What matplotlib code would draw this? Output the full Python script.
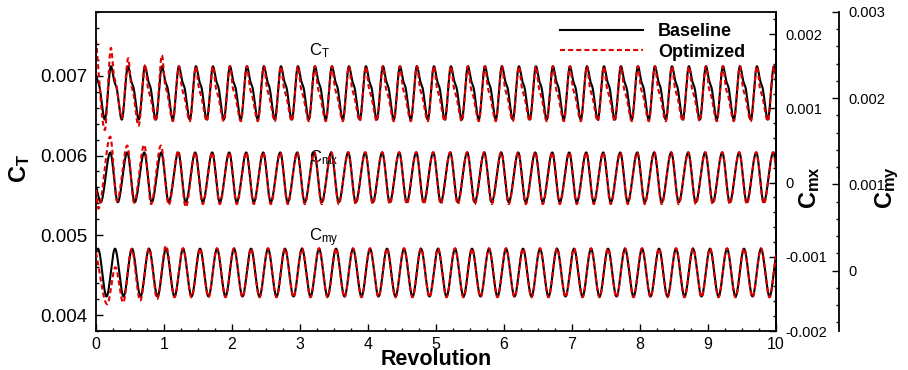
import numpy as np
import matplotlib; matplotlib.use("Agg")
import matplotlib.pyplot as plt
from matplotlib.ticker import MultipleLocator, FuncFormatter

plt.rcParams["font.family"] = ["Liberation Sans", "DejaVu Sans"]
plt.rcParams["mathtext.fontset"] = "custom"
plt.rcParams["mathtext.rm"] = "Liberation Sans"
plt.rcParams["mathtext.bf"] = "Liberation Sans:bold"
plt.rcParams["axes.unicode_minus"] = False

# ---- datos (revolucion, valor) ----
PERIOD = 0.25  # 4 oscilaciones por revolucion
X_END = 10.0

# C_T baseline: arranque + ciclo estable (offset dentro del ciclo, valor)
ct_base_tx = [0.0, 0.05]
ct_base_ty = [0.00700, 0.00687]
ct_base_off = [0.02, 0.05, 0.13, 0.22]
ct_base_val = [0.00693, 0.00686, 0.00645, 0.00712]

# C_T optimized
ct_opt_tx = [0.0, 0.13, 0.22, 0.265, 0.30, 0.38, 0.475, 0.515, 0.55, 0.625,
             0.725, 0.765, 0.80, 0.88, 0.97, 1.015, 1.05]
ct_opt_ty = [0.00745, 0.00632, 0.00735, 0.00700, 0.00688, 0.00647, 0.00722,
             0.00690, 0.00678, 0.00637, 0.00714, 0.00684, 0.00674, 0.00643,
             0.00726, 0.00690, 0.00678]
ct_opt_off = [0.015, 0.05, 0.13, 0.22]
ct_opt_val = [0.00684, 0.00674, 0.00643, 0.00712]

# C_mx
cmx_base_tx = [0.0]
cmx_base_ty = [-0.00005]
cmx_base_off = [0.07, 0.21]
cmx_base_val = [-0.000265, 0.000407]

cmx_opt_tx = [0.0, 0.035, 0.21, 0.31, 0.46, 0.56, 0.71, 0.81, 0.955, 1.07, 1.21, 1.32]
cmx_opt_ty = [-0.00010, -0.00035, 0.00062, -0.00025, 0.00050, -0.00027, 0.00051,
              -0.00029, 0.00050, -0.00030, 0.00043, -0.00033]
cmx_opt_off = [0.07, 0.21]
cmx_opt_val = [-0.00029, 0.00041]

# C_my
cmy_base_tx = [0.0]
cmy_base_ty = [0.00023]
cmy_base_off = [0.03, 0.155]
cmy_base_val = [0.000255, -0.000300]

cmy_opt_tx = [0.0, 0.165, 0.285, 0.40, 0.525, 0.65, 0.78, 0.90, 1.03]
cmy_opt_ty = [0.00021, -0.00039, 0.00004, -0.00037, 0.00025, -0.00035, 0.00026,
              -0.00033, 0.00029]
cmy_opt_off = [0.03, 0.155]
cmy_opt_val = [0.00026, -0.00031]


def knots(tx, ty, off, val):
    xs, ys = list(tx), list(ty)
    for c in np.arange(0.0, X_END + PERIOD, PERIOD):
        for o, v in zip(off, val):
            if c + o > tx[-1]:
                xs.append(c + o); ys.append(v)
    return np.array(xs), np.array(ys)


def pchip(xk, yk, xs):
    # hermite monotono (Fritsch-Carlson) entre los puntos leidos
    h = np.diff(xk); d = np.diff(yk) / h
    m = np.zeros_like(yk)
    m[0], m[-1] = d[0], d[-1]
    for i in range(1, len(xk) - 1):
        if d[i-1] * d[i] > 0:
            w1 = 2*h[i] + h[i-1]; w2 = h[i] + 2*h[i-1]
            m[i] = (w1 + w2) / (w1/d[i-1] + w2/d[i])
    k = np.clip(np.searchsorted(xk, xs) - 1, 0, len(xk) - 2)
    t = (xs - xk[k]) / h[k]
    h00 = 2*t**3 - 3*t**2 + 1; h10 = t**3 - 2*t**2 + t
    h01 = -2*t**3 + 3*t**2; h11 = t**3 - t**2
    return h00*yk[k] + h10*h[k]*m[k] + h01*yk[k+1] + h11*h[k]*m[k+1]


xs = np.linspace(0.0, X_END + 0.1, 5000)
def curve(tx, ty, off, val):
    xk, yk = knots(tx, ty, off, val)
    return pchip(xk, yk, xs)

RED = "#e00000"
fig = plt.figure(figsize=(9.08, 3.70), dpi=100)
ax = fig.add_axes([0.1057, 0.1054, 0.7489, 0.8622])
ax2 = ax.twinx()
ax3 = ax.twinx()
ax3.spines["right"].set_position(("outward", 45.4))
for s in ["left", "top", "bottom"]:
    ax3.spines[s].set_visible(False)
    ax2.spines[s].set_visible(False)

lw = 1.5
dash = (0, (2.4, 1.5))
for a, b, o in [(ax, (ct_base_tx, ct_base_ty, ct_base_off, ct_base_val),
                 (ct_opt_tx, ct_opt_ty, ct_opt_off, ct_opt_val)),
                (ax2, (cmx_base_tx, cmx_base_ty, cmx_base_off, cmx_base_val),
                 (cmx_opt_tx, cmx_opt_ty, cmx_opt_off, cmx_opt_val)),
                (ax3, (cmy_base_tx, cmy_base_ty, cmy_base_off, cmy_base_val),
                 (cmy_opt_tx, cmy_opt_ty, cmy_opt_off, cmy_opt_val))]:
    a.plot(xs, curve(*b), color="black", lw=lw, label="Baseline")
    a.plot(xs, curve(*o), color=RED, lw=lw, ls=dash, label="Optimized")

ax.set_xlim(0, X_END)
ax.set_ylim(0.0038, 0.0078)
ax2.set_ylim(-0.002, 0.0023)
ax3.set_ylim(-0.0007, 0.003)

fmt = FuncFormatter(lambda v, p: f"{v:g}" if abs(v) > 1e-12 else "0")
ax.xaxis.set_major_locator(MultipleLocator(1)); ax.xaxis.set_minor_locator(MultipleLocator(0.25))
ax.yaxis.set_major_locator(MultipleLocator(0.001)); ax.yaxis.set_minor_locator(MultipleLocator(0.0002))
ax.yaxis.set_major_formatter(fmt)
for a in (ax2, ax3):
    a.yaxis.set_major_locator(MultipleLocator(0.001)); a.yaxis.set_minor_locator(MultipleLocator(0.0002))
    a.yaxis.set_major_formatter(fmt)
    a.tick_params(axis="y", which="both", direction="in", labelsize=10.5, pad=7, width=1.0)
    a.tick_params(axis="y", which="major", length=5)
    a.tick_params(axis="y", which="minor", length=2.5)
ax.tick_params(which="both", direction="in", top=False, right=False, width=1.0)
ax.tick_params(which="major", length=5)
ax.tick_params(which="minor", length=2.5)
ax.tick_params(axis="y", labelsize=13.5, pad=6)
ax.tick_params(axis="x", labelsize=11.5, pad=4)
for a in (ax, ax2, ax3):
    for s in a.spines.values():
        s.set_linewidth(1.3)

ax.set_xlabel("Revolution", fontsize=15.5, fontweight="bold", labelpad=-1.5)
ax.set_ylabel(r"$\mathbf{C_T}$", fontsize=17)
ax.yaxis.set_label_coords(-0.112, 0.51)
ax.yaxis.label.set_verticalalignment("center")
ax2.set_ylabel(r"$\mathbf{C_{mx}}$", fontsize=17)
ax2.yaxis.set_label_coords(1.05, 0.45)
ax2.yaxis.label.set_verticalalignment("center")
ax3.set_ylabel(r"$\mathbf{C_{my}}$", fontsize=17)
ax3.yaxis.set_label_coords(1.163, 0.45)
ax3.yaxis.label.set_verticalalignment("center")

ax.text(3.14, 0.007255, r"$\mathregular{C_T}$", fontsize=12)
ax.text(3.14, 0.00592, r"$\mathregular{C_{mx}}$", fontsize=12)
ax.text(3.14, 0.00492, r"$\mathregular{C_{my}}$", fontsize=12)

h, l = ax.get_legend_handles_labels()
leg = ax3.legend(h, l, loc="upper right", bbox_to_anchor=(0.973, 1.005), frameon=False,
                 prop={"weight": "bold", "size": 13}, handlelength=4.6,
                 handletextpad=0.8, labelspacing=0.2, borderaxespad=0.3)

fig.savefig("out.png", dpi=100)
